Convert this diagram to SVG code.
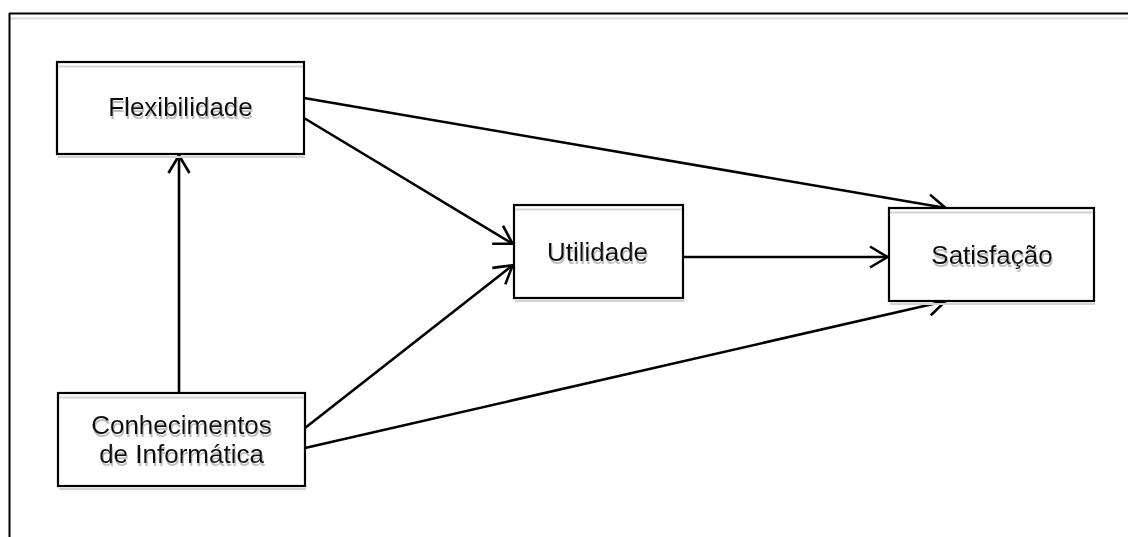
<svg xmlns="http://www.w3.org/2000/svg" width="1128" height="537" viewBox="0 0 1128 537">
<defs>
<style>
.box{fill:#fff;stroke:#000;stroke-width:2.2}
.shd{stroke:#d4d4d4;stroke-width:2;fill:none}
.lbl{font-family:"Liberation Sans",Arial,sans-serif;font-size:26px;fill:#111;text-anchor:middle;filter:url(#tshadow)}
.edge{stroke:#000;stroke-width:2.6;fill:none;marker-end:url(#arr)}
</style>
<filter id="tshadow" x="-10%" y="-30%" width="120%" height="160%">
<feOffset in="SourceAlpha" dx="1" dy="3" result="off"/>
<feFlood flood-color="#bdbdbd"/>
<feComposite in2="off" operator="in" result="sh"/>
<feMerge><feMergeNode in="sh"/><feMergeNode in="SourceGraphic"/></feMerge>
</filter>
<marker id="arr" viewBox="0 0 22 24" markerWidth="22" markerHeight="24" refX="20" refY="12" orient="auto" markerUnits="userSpaceOnUse">
<path d="M2,1.5 L19.5,12 L2,22.5" fill="none" stroke="#000" stroke-width="2.6"/>
</marker>
</defs>
<rect width="1128" height="537" fill="#fff"/>
<g id="frame">
<line x1="9" y1="13.5" x2="1128" y2="13.5" stroke="#000" stroke-width="2"/>
<line x1="10" y1="18.5" x2="1128" y2="18.5" stroke="#dcdcdc" stroke-width="2"/>
<line x1="9.5" y1="13" x2="9.5" y2="537" stroke="#000" stroke-width="2"/>
</g>
<g id="connectors">
<line class="edge" x1="179" y1="393" x2="179" y2="155"/>
<line class="edge" x1="304" y1="98" x2="946" y2="208"/>
<line class="edge" x1="304" y1="118" x2="513" y2="244"/>
<line class="edge" x1="305" y1="428" x2="513" y2="265"/>
<line class="edge" x1="305" y1="448" x2="946" y2="301"/>
<line class="edge" x1="683" y1="257" x2="888" y2="257"/>
</g>
<g id="flexibilidade">
<rect class="box" x="57" y="62" width="247" height="92"/>
<line class="shd" x1="58" y1="66.5" x2="303" y2="66.5"/>
<line class="shd" x1="58" y1="157" x2="305" y2="157"/>
<text class="lbl" x="180.5" y="116">Flexibilidade</text>
</g>
<g id="conhecimentos">
<rect class="box" x="58" y="393" width="247" height="93"/>
<line class="shd" x1="59" y1="397.5" x2="304" y2="397.5"/>
<line class="shd" x1="59" y1="489" x2="306" y2="489"/>
<text class="lbl" x="181.5" y="434"><tspan x="181.5" y="434">Conhecimentos</tspan><tspan x="181.5" y="463">de Informática</tspan></text>
</g>
<g id="utilidade">
<rect class="box" x="514" y="205" width="169" height="93"/>
<line class="shd" x1="515" y1="209.5" x2="682" y2="209.5"/>
<line class="shd" x1="515" y1="301" x2="684" y2="301"/>
<text class="lbl" x="597.5" y="261">Utilidade</text>
</g>
<g id="satisfacao">
<rect class="box" x="889" y="208" width="205" height="93"/>
<line class="shd" x1="890" y1="212.5" x2="1093" y2="212.5"/>
<line class="shd" x1="890" y1="304" x2="1095" y2="304"/>
<text class="lbl" x="992" y="264">Satisfação</text>
</g>
</svg>
